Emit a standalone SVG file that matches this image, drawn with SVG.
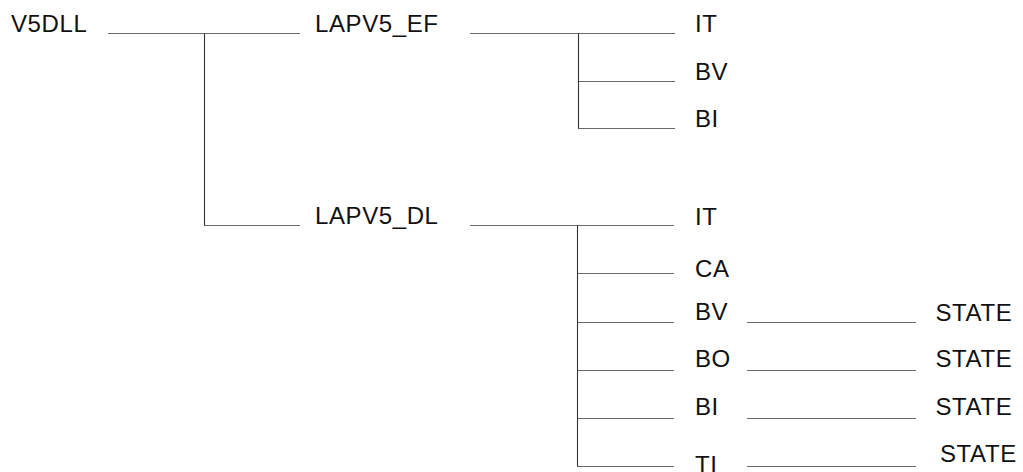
<svg xmlns="http://www.w3.org/2000/svg" width="1023" height="472" viewBox="0 0 1023 472">
<style>
text{font-family:"Liberation Sans",Arial,sans-serif;font-size:24px;letter-spacing:0.6px;fill:#111}
.h{stroke:#6a6a6a;stroke-width:1.2;fill:none}
.v{stroke:#333;stroke-width:1.1;fill:none}
</style>
<rect width="1023" height="472" fill="#fff"/>
<g id="connectors">
<path class="h" d="M108 33.5H300M204 225.5H300"/>
<path class="v" d="M204.5 33.5V225.5"/>
<path class="h" d="M470 33.5H675M578 81.5H675M578 128.5H675"/>
<path class="v" d="M578.5 33.5V128.5"/>
<path class="h" d="M470 225.5H674M577 273.5H674M577 322.5H674M577 370.5H674M577 418.5H674M577 466.5H674"/>
<path class="v" d="M577.5 225.5V466.5"/>
<path class="h" d="M747 322.5H916M747 370.5H916M747 418.5H916M747 466.5H916"/>
</g>
<g id="n-v5dll"><text x="11" y="32">V5DLL</text></g>
<g id="n-lapv5ef"><text x="315" y="32">LAPV5_EF</text></g>
<g id="n-ef-it"><text x="695" y="32">IT</text></g>
<g id="n-ef-bv"><text x="695" y="80">BV</text></g>
<g id="n-ef-bi"><text x="695" y="127">BI</text></g>
<g id="n-lapv5dl"><text x="315" y="224">LAPV5_DL</text></g>
<g id="n-dl-it"><text x="695" y="225">IT</text></g>
<g id="n-dl-ca"><text x="695" y="277">CA</text></g>
<g id="n-dl-bv"><text x="695" y="320">BV</text></g>
<g id="n-dl-bo"><text x="695" y="367">BO</text></g>
<g id="n-dl-bi"><text x="695" y="415">BI</text></g>
<g id="n-dl-ti"><text x="695" y="473">TI</text></g>
<g id="n-bv-state"><text x="935.5" y="321">STATE</text></g>
<g id="n-bo-state"><text x="935.5" y="367">STATE</text></g>
<g id="n-bi-state"><text x="935.5" y="415">STATE</text></g>
<g id="n-ti-state"><text x="940" y="462">STATE</text></g>
</svg>
